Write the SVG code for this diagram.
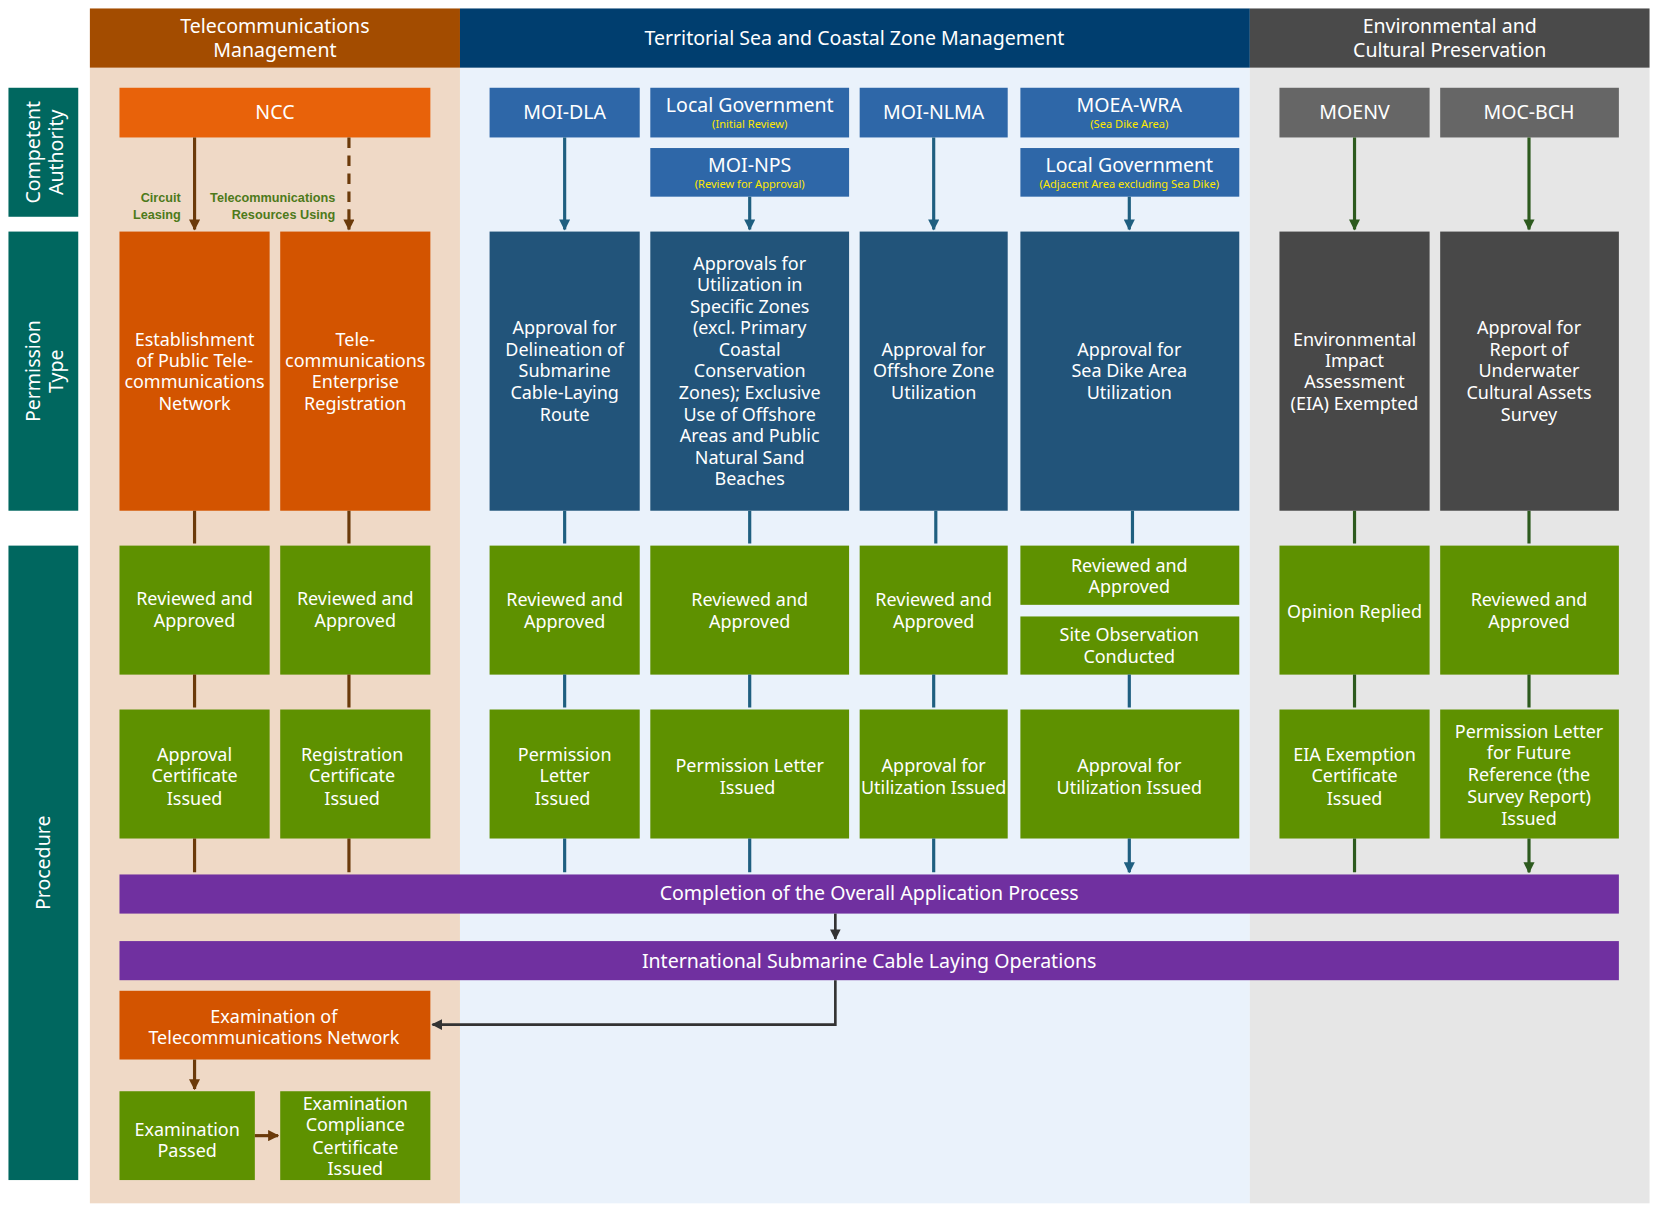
<svg xmlns="http://www.w3.org/2000/svg" width="1658" height="1214" viewBox="0 0 1658 1214">
<defs>
<style>
text{font-family:"Noto Sans","Open Sans","DejaVu Sans",sans-serif;fill:#fff;text-anchor:middle;font-size:17px}
.hd{font-size:18.5px}
.sm{font-size:10.5px;fill:#ffe800}
.lb{font-size:12px;font-weight:bold;fill:#4d7a1a;text-anchor:end;font-family:"Liberation Sans",Arial,sans-serif}
.ab{stroke:#6b3a0a;stroke-width:3;fill:none}
.ab2{stroke:#1f5f80;stroke-width:3;fill:none}
.ag{stroke:#2d5a1e;stroke-width:3;fill:none}
.ak{stroke:#333;stroke-width:2.5;fill:none}
</style>
<marker id="mb" viewBox="0 0 10 10" refX="9" refY="5" markerWidth="3.5" markerHeight="3.5" orient="auto"><path d="M0,0L10,5L0,10z" fill="#6b3a0a"/></marker>
<marker id="mu" viewBox="0 0 10 10" refX="9" refY="5" markerWidth="3.5" markerHeight="3.5" orient="auto"><path d="M0,0L10,5L0,10z" fill="#1f5f80"/></marker>
<marker id="mg" viewBox="0 0 10 10" refX="9" refY="5" markerWidth="3.5" markerHeight="3.5" orient="auto"><path d="M0,0L10,5L0,10z" fill="#2d5a1e"/></marker>
<marker id="mk" viewBox="0 0 10 10" refX="9" refY="5" markerWidth="4" markerHeight="4" orient="auto"><path d="M0,0L10,5L0,10z" fill="#333"/></marker>
</defs>
<rect width="1658" height="1214" fill="#fff"/>
<g transform="scale(1.0574)">
<g id="bands">
<rect x="85" y="64" width="350" height="1074" fill="#efd9c6"/>
<rect x="435" y="64" width="747" height="1074" fill="#eaf2fb"/>
<rect x="1182" y="64" width="378" height="1074" fill="#e6e6e6"/>
<rect x="85" y="8" width="350" height="56" fill="#a34c00"/>
<rect x="435" y="8" width="747" height="56" fill="#003e6f"/>
<rect x="1182" y="8" width="378" height="56" fill="#4a4a4a"/>
<text class="hd" x="260" y="31">Telecommunications</text><text class="hd" x="260" y="54">Management</text>
<text class="hd" x="808" y="43">Territorial Sea and Coastal Zone Management</text>
<text class="hd" x="1371" y="31">Environmental and</text><text class="hd" x="1371" y="54">Cultural Preservation</text>
</g>
<g id="rowlabels">
<rect x="8" y="83" width="66" height="122" fill="#00675f"/>
<rect x="8" y="219" width="66" height="264" fill="#00675f"/>
<rect x="8" y="516" width="66" height="600" fill="#00675f"/>
<text class="hd" transform="translate(38,144) rotate(-90)">Competent</text>
<text class="hd" transform="translate(60,144) rotate(-90)">Authority</text>
<text class="hd" transform="translate(38,351) rotate(-90)">Permission</text>
<text class="hd" transform="translate(60,351) rotate(-90)">Type</text>
<text class="hd" transform="translate(47,816) rotate(-90)">Procedure</text>
</g>
<g id="authorities">
<g id="ncc"><rect x="113" y="83" width="294" height="47" fill="#e8620a"/><text class="hd" x="260" y="113">NCC</text></g>
<g id="moidla"><rect x="463" y="83" width="142" height="47" fill="#2e67a8"/><text class="hd" x="534" y="113">MOI-DLA</text></g>
<g id="localgov1"><rect x="615" y="83" width="188" height="47" fill="#2e67a8"/><text class="hd" x="709" y="106">Local Government</text><text class="sm" x="709" y="121">(Initial Review)</text></g>
<g id="moinps"><rect x="615" y="140" width="188" height="46" fill="#2e67a8"/><text class="hd" x="709" y="163">MOI-NPS</text><text class="sm" x="709" y="178">(Review for Approval)</text></g>
<g id="moinlma"><rect x="813" y="83" width="140" height="47" fill="#2e67a8"/><text class="hd" x="883" y="113">MOI-NLMA</text></g>
<g id="moeawra"><rect x="965" y="83" width="207" height="47" fill="#2e67a8"/><text class="hd" x="1068" y="106">MOEA-WRA</text><text class="sm" x="1068" y="121">(Sea Dike Area)</text></g>
<g id="localgov2"><rect x="965" y="140" width="207" height="46" fill="#2e67a8"/><text class="hd" x="1068" y="163">Local Government</text><text class="sm" x="1068" y="178">(Adjacent Area excluding Sea Dike)</text></g>
<g id="moenv"><rect x="1210" y="83" width="142" height="47" fill="#666"/><text class="hd" x="1281" y="113">MOENV</text></g>
<g id="mocbch"><rect x="1362" y="83" width="169" height="47" fill="#666"/><text class="hd" x="1446" y="113">MOC-BCH</text></g>
</g>
<g id="permissions">
<g id="p1"><rect x="113" y="219" width="142" height="264" fill="#d35400"/><text x="184" y="327">Establishment</text><text x="184" y="347">of Public Tele-</text><text x="184" y="367">communications</text><text x="184" y="388">Network</text></g>
<g id="p2"><rect x="265" y="219" width="142" height="264" fill="#d35400"/><text x="336" y="327">Tele-</text><text x="336" y="347">communications</text><text x="336" y="367">Enterprise</text><text x="336" y="388">Registration</text></g>
<g id="p3"><rect x="463" y="219" width="142" height="264" fill="#22547a"/><text x="534" y="316">Approval for</text><text x="534" y="337">Delineation of</text><text x="534" y="357">Submarine</text><text x="534" y="377">Cable-Laying</text><text x="534" y="398">Route</text></g>
<g id="p4"><rect x="615" y="219" width="188" height="264" fill="#22547a"/><text x="709" y="255">Approvals for</text><text x="709" y="275">Utilization in</text><text x="709" y="296">Specific Zones</text><text x="709" y="316">(excl. Primary</text><text x="709" y="337">Coastal</text><text x="709" y="357">Conservation</text><text x="709" y="377">Zones);  Exclusive</text><text x="709" y="398">Use of Offshore</text><text x="709" y="418">Areas and Public</text><text x="709" y="439">Natural Sand</text><text x="709" y="459">Beaches</text></g>
<g id="p5"><rect x="813" y="219" width="140" height="264" fill="#22547a"/><text x="883" y="337">Approval for</text><text x="883" y="357">Offshore Zone</text><text x="883" y="377">Utilization</text></g>
<g id="p6"><rect x="965" y="219" width="207" height="264" fill="#22547a"/><text x="1068" y="337">Approval for</text><text x="1068" y="357">Sea Dike Area</text><text x="1068" y="377">Utilization</text></g>
<g id="p7"><rect x="1210" y="219" width="142" height="264" fill="#484848"/><text x="1281" y="327">Environmental</text><text x="1281" y="347">Impact</text><text x="1281" y="367">Assessment</text><text x="1281" y="388">(EIA) Exempted</text></g>
<g id="p8"><rect x="1362" y="219" width="169" height="264" fill="#484848"/><text x="1446" y="316">Approval for</text><text x="1446" y="337">Report of</text><text x="1446" y="357">Underwater</text><text x="1446" y="377">Cultural Assets</text><text x="1446" y="398">Survey</text></g>
</g>
<g id="review">
<g id="r1"><rect x="113" y="516" width="142" height="122" fill="#5e9100"/><text x="184" y="572">Reviewed and</text><text x="184" y="593">Approved</text></g>
<g id="r2"><rect x="265" y="516" width="142" height="122" fill="#5e9100"/><text x="336" y="572">Reviewed and</text><text x="336" y="593">Approved</text></g>
<g id="r3"><rect x="463" y="516" width="142" height="122" fill="#5e9100"/><text x="534" y="573">Reviewed and</text><text x="534" y="594">Approved</text></g>
<g id="r4"><rect x="615" y="516" width="188" height="122" fill="#5e9100"/><text x="709" y="573">Reviewed and</text><text x="709" y="594">Approved</text></g>
<g id="r5"><rect x="813" y="516" width="140" height="122" fill="#5e9100"/><text x="883" y="573">Reviewed and</text><text x="883" y="594">Approved</text></g>
<g id="r6"><rect x="965" y="516" width="207" height="56" fill="#5e9100"/><text x="1068" y="541">Reviewed and</text><text x="1068" y="561">Approved</text></g>
<g id="r6b"><rect x="965" y="583" width="207" height="55" fill="#5e9100"/><text x="1068" y="606">Site Observation</text><text x="1068" y="627">Conducted</text></g>
<g id="r7"><rect x="1210" y="516" width="142" height="122" fill="#5e9100"/><text x="1281" y="584">Opinion Replied</text></g>
<g id="r8"><rect x="1362" y="516" width="169" height="122" fill="#5e9100"/><text x="1446" y="573">Reviewed and</text><text x="1446" y="594">Approved</text></g>
</g>
<g id="issued">
<g id="i1"><rect x="113" y="671" width="142" height="122" fill="#5e9100"/><text x="184" y="720">Approval</text><text x="184" y="740">Certificate</text><text x="184" y="761">Issued</text></g>
<g id="i2"><rect x="265" y="671" width="142" height="122" fill="#5e9100"/><text x="333" y="720">Registration</text><text x="333" y="740">Certificate</text><text x="333" y="761">Issued</text></g>
<g id="i3"><rect x="463" y="671" width="142" height="122" fill="#5e9100"/><text x="534" y="720">Permission</text><text x="534" y="740">Letter</text><text x="532" y="761">Issued</text></g>
<g id="i4"><rect x="615" y="671" width="188" height="122" fill="#5e9100"/><text x="709" y="730">Permission Letter</text><text x="707" y="751">Issued</text></g>
<g id="i5"><rect x="813" y="671" width="140" height="122" fill="#5e9100"/><text x="883" y="730">Approval for</text><text x="883" y="751">Utilization Issued</text></g>
<g id="i6"><rect x="965" y="671" width="207" height="122" fill="#5e9100"/><text x="1068" y="730">Approval for</text><text x="1068" y="751">Utilization Issued</text></g>
<g id="i7"><rect x="1210" y="671" width="142" height="122" fill="#5e9100"/><text x="1281" y="720">EIA Exemption</text><text x="1281" y="740">Certificate</text><text x="1281" y="761">Issued</text></g>
<g id="i8"><rect x="1362" y="671" width="169" height="122" fill="#5e9100"/><text x="1446" y="698">Permission Letter</text><text x="1446" y="718">for Future</text><text x="1446" y="739">Reference (the</text><text x="1446" y="759">Survey Report)</text><text x="1446" y="780">Issued</text></g>
</g>
<g id="completion"><rect x="113" y="827" width="1418" height="37" fill="#7030a0"/><text class="hd" x="822" y="851">Completion of the Overall Application Process</text></g>
<g id="operations"><rect x="113" y="890" width="1418" height="37" fill="#7030a0"/><text class="hd" x="822" y="915">International Submarine Cable Laying Operations</text></g>
<g id="exam"><rect x="113" y="937" width="294" height="65" fill="#d35400"/><text x="259" y="967">Examination of</text><text x="259" y="987">Telecommunications Network</text></g>
<g id="passed"><rect x="113" y="1032" width="128" height="84" fill="#5e9100"/><text x="177" y="1074">Examination</text><text x="177" y="1094">Passed</text></g>
<g id="compliance"><rect x="265" y="1032" width="142" height="84" fill="#5e9100"/><text x="336" y="1050">Examination</text><text x="336" y="1070">Compliance</text><text x="336" y="1091">Certificate</text><text x="336" y="1111">Issued</text></g>
<g id="connectors">
<text class="lb" x="171" y="191">Circuit</text><text class="lb" x="171" y="207">Leasing</text>
<text class="lb" x="317" y="191">Telecommunications</text><text class="lb" x="317" y="207">Resources Using</text>
<path class="ab" d="M184,130V217" marker-end="url(#mb)"/>
<path class="ab" d="M330,130V217" stroke-dasharray="10,7" marker-end="url(#mb)"/>
<path class="ab2" d="M534,130V217" marker-end="url(#mu)"/>
<path class="ab2" d="M709,186V217" marker-end="url(#mu)"/>
<path class="ab2" d="M883,130V217" marker-end="url(#mu)"/>
<path class="ab2" d="M1068,186V217" marker-end="url(#mu)"/>
<path class="ag" d="M1281,130V217" marker-end="url(#mg)"/>
<path class="ag" d="M1446,130V217" marker-end="url(#mg)"/>
<g class="ab"><path d="M184,483V514M330,483V514M184,638V669M330,638V669M184,793V825M330,793V825M184,1002V1030" marker-end="url(#mb)"/><path d="M241,1074H263" marker-end="url(#mb)"/></g>
<g class="ab2"><path d="M534,483V514M709,483V514M885,483V514M1071,483V514M534,638V669M709,638V669M883,638V669M1068,638V669M534,793V825M709,793V825M883,793V825M1068,793V825" marker-end="url(#mu)"/></g>
<g class="ag"><path d="M1281,483V514M1446,483V514M1281,638V669M1446,638V669M1281,793V825M1446,793V825" marker-end="url(#mg)"/></g>
<path class="ak" d="M790,864V888" marker-end="url(#mk)"/>
<path class="ak" d="M790,927V969H409" marker-end="url(#mk)"/>
</g>
</g>
</svg>
